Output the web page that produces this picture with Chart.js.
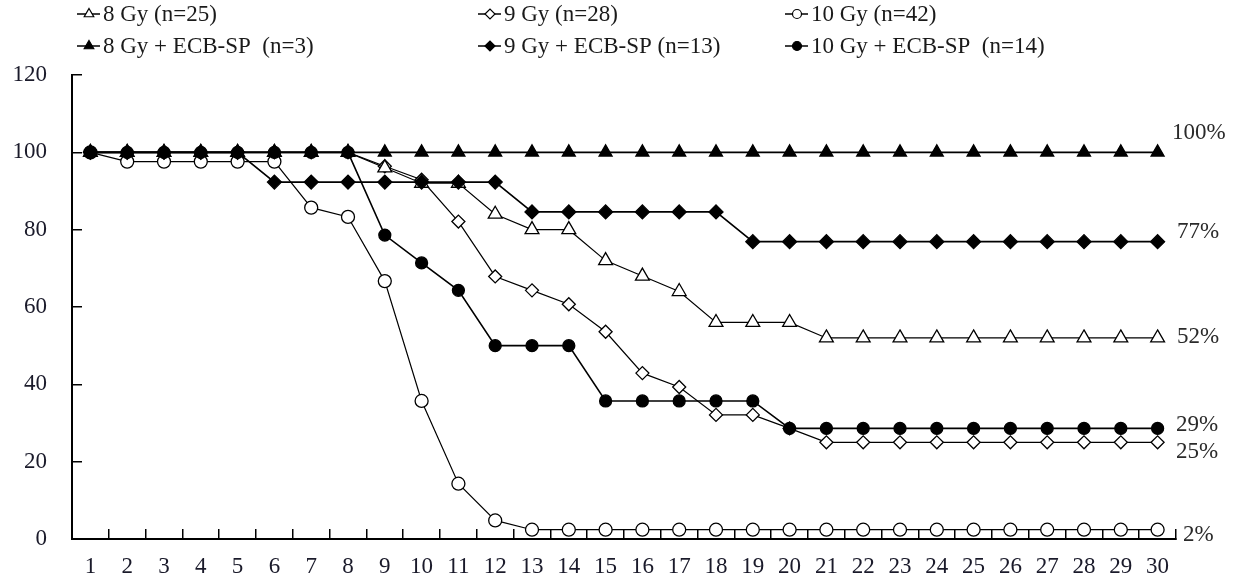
<!DOCTYPE html>
<html>
<head>
<meta charset="utf-8">
<script src="https://cdn.jsdelivr.net/npm/chart.js@4/dist/chart.umd.min.js"></script>
<style>
  html, body { margin: 0; padding: 0; background: #fff; }
  #wrap { width: 1242px; height: 581px; position: relative; }
</style>
</head>
<body>
<div id="wrap"><canvas id="survival"></canvas></div>
<script>
// days after irradiation
const days = ['1','2','3','4','5','6','7','8','9','10','11','12','13','14','15',
  '16','17','18','19','20','21','22','23','24','25','26','27','28','29','30'];
const yTicks = [0, 20, 40, 60, 80, 100, 120];

// survival (%) per group
const gy8 = [100,100,100,100,100,100,100,100,96,92,92,84,80,80,72,68,64,56,56,56,52,52,52,52,52,52,52,52,52,52];
const gy9 = [100,100,100,100,100,100,100,100,96.4,92.9,82.1,67.9,64.3,60.7,53.6,42.9,39.3,32.1,32.1,28.6,25,25,25,25,25,25,25,25,25,25];
const gy10 = [100,97.6,97.6,97.6,97.6,97.6,85.7,83.3,66.7,35.7,14.3,4.8,2.4,2.4,2.4,2.4,2.4,2.4,2.4,2.4,2.4,2.4,2.4,2.4,2.4,2.4,2.4,2.4,2.4,2.4];
const gy8Ecb = [100,100,100,100,100,100,100,100,100,100,100,100,100,100,100,100,100,100,100,100,100,100,100,100,100,100,100,100,100,100];
const gy9Ecb = [100,100,100,100,100,92.3,92.3,92.3,92.3,92.3,92.3,92.3,84.6,84.6,84.6,84.6,84.6,84.6,76.9,76.9,76.9,76.9,76.9,76.9,76.9,76.9,76.9,76.9,76.9,76.9];
const gy10Ecb = [100,100,100,100,100,100,100,100,78.6,71.4,64.3,50,50,50,35.7,35.7,35.7,35.7,35.7,28.6,28.6,28.6,28.6,28.6,28.6,28.6,28.6,28.6,28.6,28.6];

const seriesNames = ['8 Gy (n=25)', '9 Gy (n=28)', '10 Gy (n=42)',
  '8 Gy + ECB-SP  (n=3)', '9 Gy + ECB-SP (n=13)', '10 Gy + ECB-SP  (n=14)'];
const finalValues = [100, 77, 52, 29, 25, 2];

const FONT = '"Liberation Serif", "Times New Roman", serif';

function makeSet(name, data, style, filled, r){
  return {
    label: name,
    data: data,
    borderColor: '#000',
    borderWidth: filled ? 1.6 : 1.2,
    pointStyle: style,
    pointRadius: r,
    pointHoverRadius: r,
    pointBackgroundColor: filled ? '#000' : '#fff',
    pointBorderColor: '#000',
    pointBorderWidth: 1.3,
    order: filled ? 0 : 1,
    fill: false,
    tension: 0
  };
}

const sets = [
  makeSet(seriesNames[0], gy8, 'triangle', false, 8),
  makeSet(seriesNames[1], gy9, 'rectRot', false, 6.5),
  makeSet(seriesNames[2], gy10, 'circle', false, 6.5),
  makeSet(seriesNames[3], gy8Ecb, 'triangle', true, 7.5),
  makeSet(seriesNames[4], gy9Ecb, 'rectRot', true, 7),
  makeSet(seriesNames[5], gy10Ecb, 'circle', true, 6)
];

// legend in two rows of three, line-marker-line symbols
const gridLegend = {
  id: 'gridLegend',
  afterDraw(chart, args, opts){
    const ctx = chart.ctx;
    ctx.save();
    chart.data.datasets.forEach((ds, i) => {
      const x0 = opts.colX[i % 3];
      const y = opts.rowY[Math.floor(i / 3)];
      ctx.strokeStyle = '#000';
      ctx.lineWidth = 1.5;
      ctx.beginPath();
      ctx.moveTo(x0, y);
      ctx.lineTo(x0 + 23, y);
      ctx.stroke();
      ctx.fillStyle = ds.pointBackgroundColor;
      ctx.lineWidth = 1.2;
      const r = ds.pointStyle === 'triangle' ? 5.5 : (ds.pointStyle === 'rectRot' ? 5 : 4.5);
      Chart.helpers.drawPoint(ctx, {pointStyle: ds.pointStyle, radius: r, borderWidth: 1.2}, x0 + 12, y);
      ctx.fillStyle = '#1a1a1a';
      ctx.font = '23px ' + FONT;
      ctx.textBaseline = 'middle';
      ctx.textAlign = 'left';
      ctx.fillText(ds.label, x0 + 26, y + 1);
    });
    ctx.restore();
  }
};

// final percentage labels on the right
const endLabels = {
  id: 'endLabels',
  afterDraw(chart, args, opts){
    const ctx = chart.ctx;
    const yScale = chart.scales.y;
    const right = chart.chartArea.right;
    ctx.save();
    ctx.font = '23px ' + FONT;
    ctx.fillStyle = '#2a2a2a';
    ctx.textBaseline = 'middle';
    ctx.textAlign = 'left';
    finalValues.forEach((v, i) => {
      ctx.fillText(v + '%', right + opts.dx[i], yScale.getPixelForValue(v) + opts.dy[i]);
    });
    ctx.restore();
  }
};

new Chart(document.getElementById('survival'), {
  type: 'line',
  data: { labels: days, datasets: sets },
  plugins: [gridLegend, endLabels],
  options: {
    responsive: true,
    maintainAspectRatio: false,
    animation: false,
    layout: { padding: { left: 0, right: 66, top: 75, bottom: 0 } },
    plugins: {
      legend: { display: false },
      tooltip: { enabled: false },
      gridLegend: { colX: [77, 478, 785], rowY: [14, 46] },
      endLabels: { dx: [-4, 1, 1, 0, 0, 7], dy: [-19, -9, -1, -2, 10, 4] }
    },
    scales: {
      x: {
        type: 'category',
        offset: true,
        grid: { offset: true, drawOnChartArea: false, tickLength: -10, color: '#000', lineWidth: 1.5 },
        border: { color: '#000', width: 2 },
        ticks: { color: '#1a1a2a', font: { family: FONT, size: 23 }, padding: 24, maxRotation: 0, autoSkip: false },
        afterFit(scale){ scale.height = 42; scale.paddingLeft = 0; scale.paddingRight = 0; }
      },
      y: {
        min: yTicks[0],
        max: yTicks[yTicks.length - 1],
        afterBuildTicks(scale){ scale.ticks = yTicks.map(v => ({ value: v })); },
        grid: { drawOnChartArea: false, tickLength: -10, color: '#000', lineWidth: 1.5 },
        border: { color: '#000', width: 2 },
        ticks: { color: '#1a1a2a', font: { family: FONT, size: 23 }, padding: 35 },
        afterFit(scale){ scale.width = 72; scale.paddingTop = 0; scale.paddingBottom = 0; }
      }
    }
  }
});
</script>
</body>
</html>
